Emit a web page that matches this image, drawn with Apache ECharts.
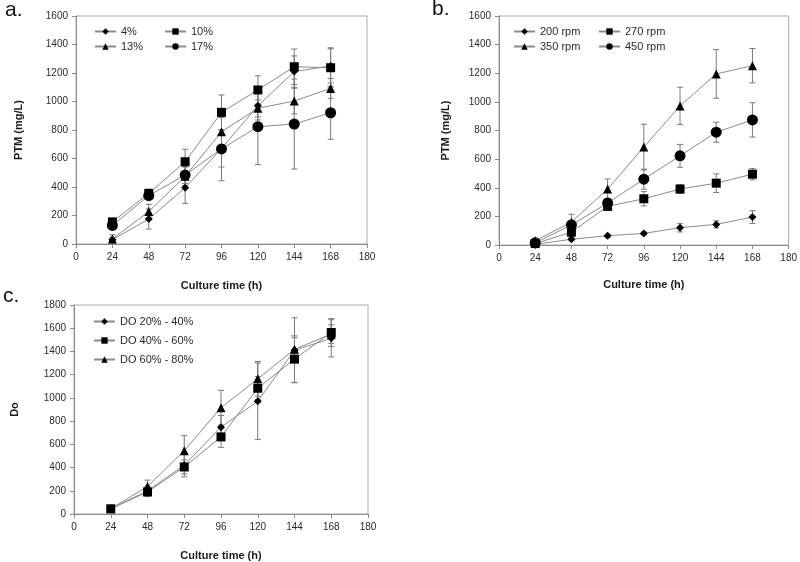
<!DOCTYPE html>
<html><head><meta charset="utf-8">
<script src="https://cdn.jsdelivr.net/npm/echarts@6/dist/echarts.min.js"></script>
<style>html,body{margin:0;padding:0;background:#fff}#c{width:800px;height:562px}</style>
</head><body><div id="c"></div>
<script>
// x tick labels (equally spaced in the source) and sampling times
const xTicks = ['0','24','48','72','96','120','144','168','180'];
const times = ['24','48','72','96','120','144','168'];

// Panel a
const a_names = ['4%','10%','13%','17%'];
const a_4 = [30, 175, 395, 670, 970, 1210, 1250];
const a_10 = [155, 355, 577, 924, 1081, 1244, 1237];
const a_13 = [35, 228, 475, 788, 952, 1003, 1092];
const a_17 = [130, 340, 484, 667, 823, 842, 921];
const a_4e = [15, 70, 110, 130, 100, 110, 120];
const a_10e = [25, 30, 88, 122, 100, 124, 140];
const a_13e = [30, 50, 65, 100, 60, 90, 70];
const a_17e = [20, 25, 60, 223, 266, 316, 186];

// Panel b
const b_names = ['200 rpm','270 rpm','350 rpm','450 rpm'];
const b_200 = [5, 40, 65, 81, 121, 144, 195];
const b_270 = [10, 90, 270, 323, 391, 432, 495];
const b_350 = [30, 160, 391, 684, 972, 1195, 1253];
const b_450 = [15, 140, 293, 460, 623, 788, 874];
const b_200e = [5, 10, 10, 10, 30, 25, 45];
const b_270e = [5, 30, 25, 50, 30, 65, 40];
const b_350e = [15, 55, 70, 160, 130, 170, 120];
const b_450e = [10, 30, 30, 70, 80, 70, 120];

// Panel c
const c_names = ['DO 20% - 40%','DO 40% - 60%','DO 60% - 80%'];
const c_20 = [45, 200, 420, 748, 971, 1410, 1513];
const c_40 = [45, 190, 405, 664, 1083, 1334, 1563];
const c_60 = [45, 237, 545, 915, 1164, 1418, 1550];
const c_20e = [10, 40, 100, 100, 330, 280, 160];
const c_40e = [10, 40, 60, 90, 100, 200, 120];
const c_60e = [10, 55, 130, 150, 150, 100, 80];

const LINE = '#8a8a8a', MARK = '#000', ERR = '#7a7a7a', AXIS = '#8c8c8c', TXT = '#2a2a2a';
const FONT = 'Liberation Sans, Arial, sans-serif';

const symbols = {diamond:['diamond',8], square:['rect',9], triangle:['triangle',9], circle:['circle',11]};

function lineSeries(name, gi, vals, sym) {
  return {
    type:'line', name, xAxisIndex:gi, yAxisIndex:gi,
    data: times.map((t,i)=>[t, vals[i]]),
    symbol: symbols[sym][0], symbolSize: symbols[sym][1],
    lineStyle:{color:LINE, width:1}, itemStyle:{color:MARK},
    z:3, animation:false
  };
}
function errSeries(gi, vals, errs) {
  return {
    type:'custom', xAxisIndex:gi, yAxisIndex:gi, z:2, silent:true, animation:false,
    data: times.map((t,i)=>[t, vals[i], errs[i]]),
    renderItem(params, api){
      const x = api.value(0), y = api.value(1), e = api.value(2);
      const hi = api.coord([x, y+e]), lo = api.coord([x, y-e]);
      const w = 3, st = {stroke:ERR, lineWidth:1, fill:null};
      return {type:'group', children:[
        {type:'line', shape:{x1:hi[0],y1:hi[1],x2:lo[0],y2:lo[1]}, style:st},
        {type:'line', shape:{x1:hi[0]-w,y1:hi[1],x2:hi[0]+w,y2:hi[1]}, style:st},
        {type:'line', shape:{x1:lo[0]-w,y1:lo[1],x2:lo[0]+w,y2:lo[1]}, style:st}
      ]};
    }
  };
}
function xAxis(gi, gap) {
  return {type:'category', gridIndex:gi, data:xTicks, boundaryGap:false,
    axisLine:{lineStyle:{color:AXIS}}, axisTick:{length:4, lineStyle:{color:AXIS}},
    axisLabel:{color:TXT, fontSize:10, fontFamily:FONT, margin:8},
    name:'Culture time (h)', nameLocation:'middle', nameGap:gap,
    nameTextStyle:{color:'#1a1a1a', fontSize:11, fontWeight:'bold', fontFamily:FONT}};
}
function yAxis(gi, max, name, gap) {
  return {type:'value', gridIndex:gi, min:0, max, interval:200,
    axisLine:{show:true, lineStyle:{color:AXIS}}, axisTick:{show:true, length:4, lineStyle:{color:AXIS}},
    splitLine:{show:false},
    axisLabel:{color:TXT, fontSize:10, fontFamily:FONT, margin:8, formatter: v => String(v)},
    name, nameLocation:'middle', nameGap:gap, nameRotate:90,
    nameTextStyle:{color:'#1a1a1a', fontSize:11, fontWeight:'bold', fontFamily:FONT}};
}
function legend(names, left, top, gap) {
  return {data:names, orient:'vertical', left, top, padding:0, itemGap:gap,
    itemWidth:21, itemHeight:8, textStyle:{color:TXT, fontSize:11, fontFamily:FONT}};
}

const chart = echarts.init(document.getElementById('c'));
chart.setOption({
  backgroundColor:'#fff',
  animation:false,
  grid:[
    {left:76, top:16, width:291, height:228, show:true, borderColor:'#aaa', borderWidth:1},
    {left:499, top:16, width:290, height:229, show:true, borderColor:'#aaa', borderWidth:1},
    {left:74, top:305, width:294, height:215, show:true, borderColor:'#aaa', borderWidth:1}
  ],
  xAxis:[xAxis(0, 36), xAxis(1, 34), xAxis(2, 36)],
  yAxis:[yAxis(0, 1600, 'PTM (mg/L)', 52), yAxis(1, 1600, 'PTM (mg/L)', 48), yAxis(2, 1800, 'Do', 54)],
  legend:[
    legend([a_names[0], a_names[2]], 94, 26, 4),
    legend([a_names[1], a_names[3]], 164, 26, 4),
    legend([b_names[0], b_names[2]], 513, 26, 4),
    legend([b_names[1], b_names[3]], 598, 26, 4),
    legend(c_names, 93, 316, 8)
  ],
  graphic:[
    {type:'text', left:5, top:0, style:{text:'a.', font:'21px '+FONT, fill:'#111'}},
    {type:'text', left:432, top:-1, style:{text:'b.', font:'21px '+FONT, fill:'#111'}},
    {type:'text', left:3, top:286, style:{text:'c.', font:'21px '+FONT, fill:'#111'}}
  ],
  series:[
    errSeries(0, a_4, a_4e), errSeries(0, a_10, a_10e), errSeries(0, a_13, a_13e), errSeries(0, a_17, a_17e),
    lineSeries(a_names[0], 0, a_4, 'diamond'), lineSeries(a_names[1], 0, a_10, 'square'),
    lineSeries(a_names[2], 0, a_13, 'triangle'), lineSeries(a_names[3], 0, a_17, 'circle'),
    errSeries(1, b_200, b_200e), errSeries(1, b_270, b_270e), errSeries(1, b_350, b_350e), errSeries(1, b_450, b_450e),
    lineSeries(b_names[0], 1, b_200, 'diamond'), lineSeries(b_names[1], 1, b_270, 'square'),
    lineSeries(b_names[2], 1, b_350, 'triangle'), lineSeries(b_names[3], 1, b_450, 'circle'),
    errSeries(2, c_20, c_20e), errSeries(2, c_40, c_40e), errSeries(2, c_60, c_60e),
    lineSeries(c_names[0], 2, c_20, 'diamond'), lineSeries(c_names[1], 2, c_40, 'square'),
    lineSeries(c_names[2], 2, c_60, 'triangle')
  ]
});
</script></body></html>
